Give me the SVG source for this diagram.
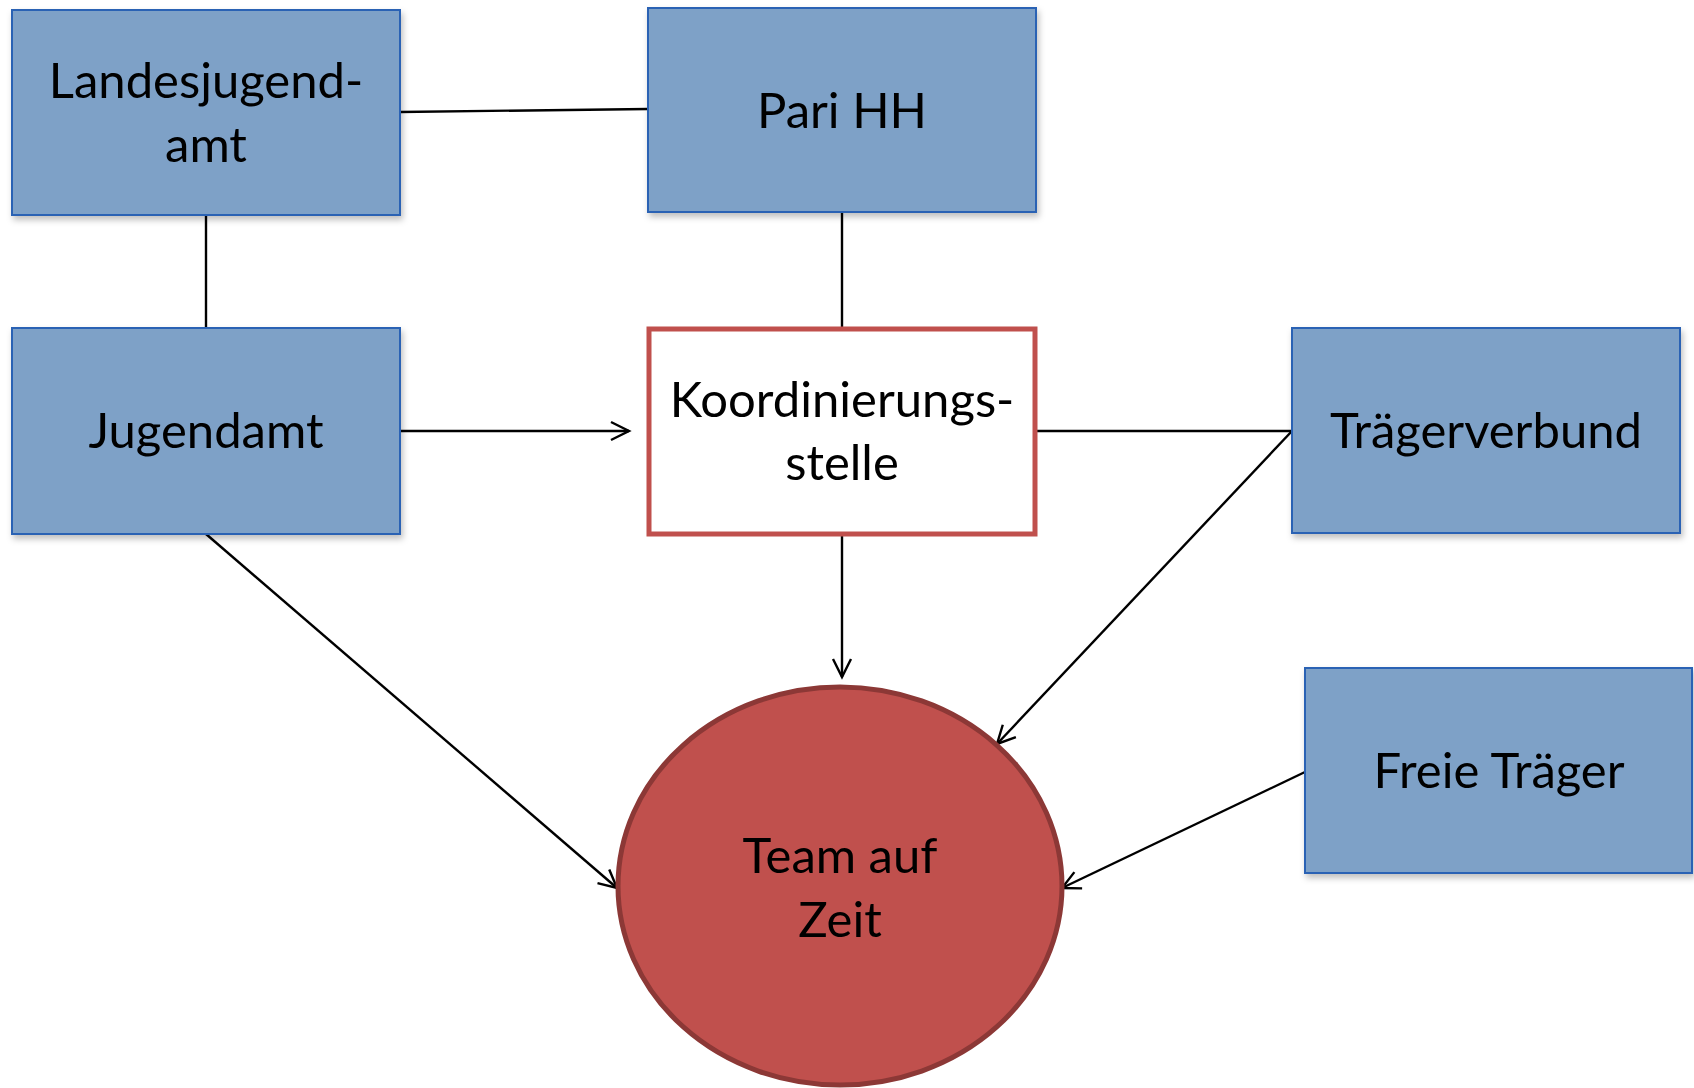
<svg xmlns="http://www.w3.org/2000/svg" width="1694" height="1088" viewBox="0 0 1694 1088">
<defs>
<style>
.box{fill:#7EA1C7;stroke:#2C62B4;stroke-width:2;filter:url(#sh)}
.lbl{font-family:Lato,"Liberation Sans",sans-serif;font-size:49px;fill:#000;text-anchor:middle}
.con{stroke:#000;stroke-width:2.4;fill:none}
.arr{marker-end:url(#ah)}
</style>
<filter id="sh" x="-10%" y="-10%" width="125%" height="130%">
<feDropShadow dx="2" dy="4" stdDeviation="3" flood-color="#000" flood-opacity="0.25"/>
</filter>
<marker id="ah" viewBox="0 0 22 20" refX="20" refY="10" markerWidth="22" markerHeight="20" markerUnits="userSpaceOnUse" orient="auto" overflow="visible">
<path d="M2,1 L20,10 L2,19" fill="none" stroke="#000" stroke-width="2.4"/>
</marker>
</defs>
<rect width="1694" height="1088" fill="#fff"/>
<g id="connectors">
<line class="con" x1="400" y1="112" x2="648" y2="109"/>
<line class="con" x1="206" y1="215" x2="206" y2="328"/>
<line class="con" x1="842" y1="212" x2="842" y2="327"/>
<line class="con arr" x1="400" y1="431" x2="629" y2="431"/>
<line class="con" x1="1036" y1="431" x2="1292" y2="431"/>
<line class="con arr" x1="206" y1="534" x2="617" y2="888"/>
<line class="con arr" x1="842" y1="534" x2="842" y2="677"/>
<line class="con arr" x1="1292" y1="431" x2="997" y2="744"/>
<line class="con arr" x1="1305" y1="772" x2="1062" y2="888"/>
</g>
<g id="landesjugendamt">
<rect class="box" x="12" y="10" width="388" height="205"/>
<text class="lbl" x="206" y="98">Landesjugend-</text>
<text class="lbl" x="206" y="162">amt</text>
</g>
<g id="parihh">
<rect class="box" x="648" y="8" width="388" height="204"/>
<text class="lbl" x="842" y="128">Pari HH</text>
</g>
<g id="jugendamt">
<rect class="box" x="12" y="328" width="388" height="206"/>
<text class="lbl" x="206" y="448">Jugendamt</text>
</g>
<g id="koordinierungsstelle">
<rect x="649" y="329" width="386" height="205" fill="#fff" stroke="#C0504D" stroke-width="5"/>
<text class="lbl" x="842" y="417">Koordinierungs-</text>
<text class="lbl" x="842" y="480">stelle</text>
</g>
<g id="traegerverbund">
<rect class="box" x="1292" y="328" width="388" height="205"/>
<text class="lbl" x="1486" y="448">Trägerverbund</text>
</g>
<g id="freietraeger">
<rect class="box" x="1305" y="668" width="387" height="205"/>
<text class="lbl" x="1499" y="788">Freie Träger</text>
</g>
<g id="teamaufzeit">
<ellipse cx="840" cy="886" rx="222" ry="199" fill="#C0504D" stroke="#8C3836" stroke-width="5"/>
<text class="lbl" x="840" y="873">Team auf</text>
<text class="lbl" x="840" y="937">Zeit</text>
</g>
</svg>
